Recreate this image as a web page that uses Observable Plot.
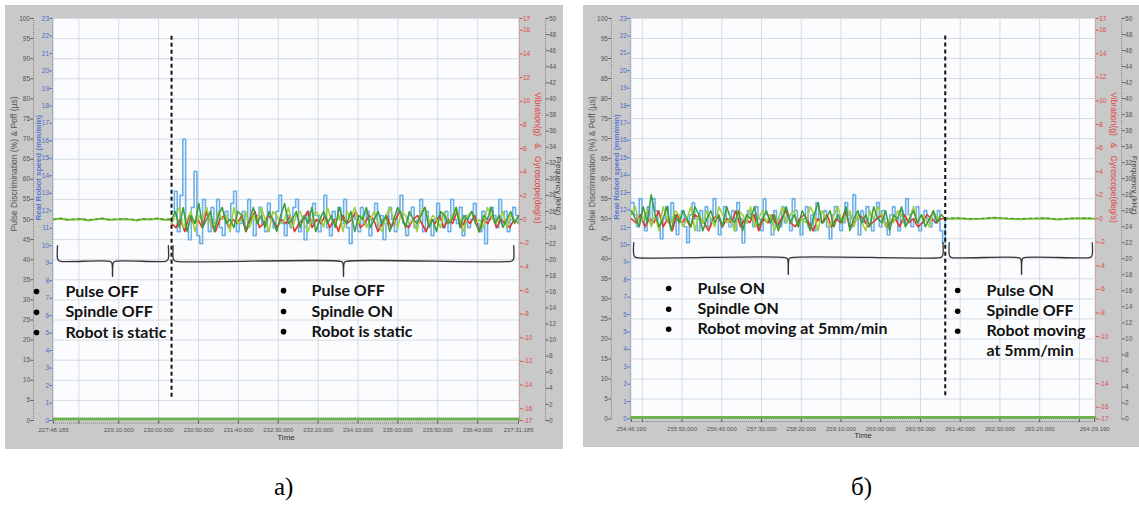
<!DOCTYPE html>
<html><head><meta charset="utf-8">
<script src="https://cdn.jsdelivr.net/npm/d3@7"></script>
<script src="https://cdn.jsdelivr.net/npm/@observablehq/plot@0.6"></script>
<style>
body{margin:0;background:#fff;width:1139px;height:517px;overflow:hidden;position:relative;font-family:"Liberation Sans",Arial,sans-serif}
.panel{position:absolute;top:5px}
.cap{position:absolute;top:474px;font-family:"Liberation Serif","Times New Roman",serif;font-size:25px;color:#000;line-height:1}
</style></head><body>
<div id="pa" class="panel" style="left:5px"></div>
<div id="pb" class="panel" style="left:583px"></div>
<div class="cap" style="left:274px">а)</div>
<div class="cap" style="left:851px">б)</div>
<script>
// ---------- tick labels ----------
const leftTicks = [0,5,10,15,20,25,30,35,40,45,50,55,60,65,70,75,80,85,90,95,100];
const blueTicks = [0,1,2,3,4,5,6,7,8,9,10,11,12,13,14,15,16,17,18,19,20,21,22,23];
const redTicks = [-17,-16,-14,-12,-10,-8,-6,-4,-2,0,2,4,6,8,10,12,14,16,17];
const freqTicks = [0,2,4,6,8,10,12,14,16,18,20,22,24,26,28,30,32,34,36,38,40,42,44,46,48,50];
const timeLabelsA = ["227:48.185","229:10.000","230:00.000","230:50.000","231:40.000","232:30.000","233:20.000","234:10.000","235:00.000","235:50.000","236:40.000","237:31.185"];
const timeGridA = ["228:20.000","229:10.000","230:00.000","230:50.000","231:40.000","232:30.000","233:20.000","234:10.000","235:00.000","235:50.000","236:40.000"];
const timeLabelsB = ["254:46.190","255:50.000","256:40.000","257:30.000","258:20.000","259:10.000","260:00.000","260:50.000","261:40.000","262:30.000","263:20.000","264:29.190"];
const timeGridB = ["255:00.000","255:50.000","256:40.000","257:30.000","258:20.000","259:10.000","260:00.000","260:50.000","261:40.000","262:30.000","263:20.000","264:10.000"];

// ---------- panel a series (left-axis units, %) ----------
const quietSegA = [0, 148];     // seconds after start
const noisySegA = [148, 583];
const switchA = 148;
const quietA = [50,50.2,49.9,50,50.1,49.8,50,50.2,49.9,50,50.1,50,49.8,50.1,50,50.2,49.9,50];
const blueA = [52,57,47,56,70,49,45,53,62,46,44,55,51,47,53,49,55,48,46,52,50,54,57,47,49,52,48,55,50,46,51,53,49,47,54,50,48,52,56,49,46,51,48,53,55,47,50,45,52,49,54,51,47,50,56,48,46,52,50,53,49,55,48,44,51,50,47,53,49,52,46,50,54,48,51,45,49,53,50,47,52,56,49,46,51,53,48,50,55,47,52,49,46,50,54,51,48,52,47,55,50,49,53,46,51,48,50,54,49,47,52,44,50,53,51,48,55,49,52,47,50,53,51,49];
const greenA = [50,52,48,53,47,51,49,54,48,50,52,47,51,53,49,50,48,52,51,47,50,53,49,51,48,52,50,47,51,54,49,50,52,48,51,49,53,47,50,52,49,51,48,53,50,49,52,47,51,50,53,48,50,52,49,51,47,50,53,51,48,52,50,49,51,53,48,50,47,52,51,49,50,53,48,51,50,52,49,47,51,50,53,49,51,48,50,52,49,51];
const limeA = [49,51,53,48,50,52,47,51,50,53,49,48,52,50,51,47,53,49,50,52,48,51,49,53,50,47,52,51,49,50,53,48,51,52,49,47,50,52,51,48,53,50,49,51,47,52,50,53,49,51,48,50,52,49,47,51,53,50,48,52,51,49,50,47,52,53,49,51,50,48,52,49,51,53,50,47,51,52,49,50,48,53,51,49,50,52,48,51,50,49];
const redA = [49,48,50,47,51,49,50,48,52,49,47,50,51,48,50,49,51,47,50,52,48,49,51,50,48,50,49,51,47,49,50,52,48,50,49,51,48,50,47,51,49,50,52,48,49,51,50,47,49,51,48,50,52,49,48,50,51,49,47,50,49,51,48,50,49,52,48,50,49,51,47,50,49,51,48,50,49,48,50,49];

// ---------- panel b series ----------
const noisySegB = [0, 395];
const quietSegB = [395, 583];
const switchB = 395;
const blueB = [54,51,48,55,50,47,53,49,55,52,48,45,50,53,49,54,51,46,50,52,48,44,51,54,50,47,52,49,53,48,50,55,51,46,49,53,50,48,52,47,54,50,44,49,52,51,48,53,50,47,55,51,49,46,52,50,48,53,49,51,47,55,52,49,46,50,53,48,51,47,54,50,49,52,48,45,51,53,50,47,49,54,51,48,56,50,46,52,49,53,51,47,50,54,48,52,49,46,51,53,50,47,52,49,55,51,48,50,53,47,49,52,50,48,51,49,52,47,44,50];
const greenB = [52,50,48,53,49,56,51,48,50,53,47,51,49,52,50,48,53,51,47,50,52,49,51,48,53,50,49,52,47,51,50,53,48,50,52,49,51,47,50,53,49,51,48,52,50,47,51,54,49,50,52,48,51,49,53,47,50,52,49,51,48,53,50,49,52,47,51,50,53,48,50,52,49,51,48,50,52,49,51,50];
const limeB = [51,53,49,50,52,48,51,47,53,50,49,52,51,48,50,53,47,51,49,52,50,48,53,51,49,50,47,52,51,49,53,48,50,52,49,51,47,50,53,49,51,52,48,50,49,53,51,47,52,50,48,51,53,49,50,52,48,51,49,47,52,50,53,51,48,50,49,52,51,48,50,53,49,51,50,48,52,50,51,50];
const redB = [50,49,51,48,50,49,52,48,50,47,51,49,50,48,51,50,49,47,50,51,48,50,49,52,48,50,49,51,47,50,49,51,48,50,52,49,48,50,51,49,47,50,49,51,48,50,49,52,48,49,51,50,48,49,50,51,48,49,50,48,51,49,50,48,49,51,50,49,50,50];
const quietB = [50,50.1,49.9,50,50.2,50,49.9,50,50.1,49.8,50,50.1,50];

// ---------- annotations ----------
const notesA = [
  {t:15, v:32.1, s:"Pulse OFF"}, {t:15, v:26.9, s:"Spindle OFF"}, {t:15, v:21.9, s:"Robot is static"},
  {t:323.5, v:32.3, s:"Pulse OFF"}, {t:323.5, v:27.1, s:"Spindle ON"}, {t:323.5, v:22.1, s:"Robot is static"}];
const bulletsA = [{t:-21.3, v:32.1},{t:-21.3, v:26.9},{t:-21.3, v:21.9},{t:288.4, v:32.3},{t:288.4, v:27.1},{t:288.4, v:22.1}];
const bracesA = [{a:5, b:144, c:74, top:43.5, mid:39.6, tip:35.8},{a:150, b:577, c:363.6, top:43.5, mid:39.6, tip:35.8}];
const notesB = [
  {t:83.4, v:32.6, s:"Pulse ON"}, {t:83.4, v:27.4, s:"Spindle ON"}, {t:83.4, v:22.4, s:"Robot moving at 5mm/min"},
  {t:447, v:32.1, s:"Pulse ON"}, {t:447, v:26.9, s:"Spindle OFF"}, {t:447, v:21.9, s:"Robot moving"}, {t:447, v:16.9, s:"at 5mm/min"}];
const bulletsB = [{t:47, v:32.6},{t:47, v:27.4},{t:47, v:22.4},{t:410.6, v:32.1},{t:410.6, v:26.9},{t:410.6, v:21.9}];
const bracesB = [{a:3, b:392, c:197.5, top:44, mid:40.3, tip:36.1},{a:400, b:580, c:491, top:44, mid:40.3, tip:36.1}];

// ---------- helpers ----------
const parseT = s => { const [m, sec] = s.split(":"); return +m * 60 + +sec; };
const fmtT = t => { const m = Math.floor(t / 60 + 1e-9); const s = t - m * 60; return m + ":" + s.toFixed(3).padStart(6, "0"); };
const W = 558, H = 444, ML = 48, MR = 45, MT = 13, MB = 29;
const kx = 583 / (W - ML - MR), ky = 100 / (H - MT - MB);
const series = (vals, seg, t0) => vals.map((v, i) => ({t: t0 + seg[0] + i * (seg[1] - seg[0]) / (vals.length - 1), v}));
function bracePts(br, id, t0) {
  const rx = 3 * kx, ry = 3 * ky;
  const p = [[br.a, br.top], [br.a, br.mid + ry], [br.a + rx * 0.35, br.mid + ry * 0.3], [br.a + rx, br.mid],
    [br.c - rx, br.mid], [br.c - rx * 0.3, br.mid - ry * 0.4], [br.c, br.tip], [br.c + rx * 0.3, br.mid - ry * 0.4], [br.c + rx, br.mid],
    [br.b - rx, br.mid], [br.b - rx * 0.35, br.mid + ry * 0.3], [br.b, br.mid + ry], [br.b, br.top]];
  return p.map(([t, v]) => ({t: t0 + t, v, id}));
}

function panel(cfg) {
  const t0 = parseT(cfg.labels[0]), t1 = parseT(cfg.labels[cfg.labels.length - 1]);
  const labelT = cfg.labels.map(parseT), gridT = cfg.grid.map(parseT);
  const labelSet = new Set(labelT.map(d => d.toFixed(3)));
  const tickT = Array.from(new Set([...labelT, ...gridT])).sort((a, b) => a - b);
  const minorT = d3.range(t0, t1 + 0.01, 2.5);
  const redPos = redTicks.map(v => (v + 17) / 34 * 100);
  const redMap = new Map(redPos.map((p, i) => [p.toFixed(4), redTicks[i]]));
  const q = series(cfg.quiet, cfg.quietSeg, t0);
  const noisy = {
    blue: series(cfg.blue, cfg.noisySeg, t0), green: series(cfg.green, cfg.noisySeg, t0),
    lime: series(cfg.lime, cfg.noisySeg, t0), red: series(cfg.red, cfg.noisySeg, t0)};
  const bottomLine = [{t: t0, v: 0.35}, {t: t1, v: 0.35}];
  const braces = cfg.braces.flatMap((b, i) => bracePts(b, i, t0));
  const tickFont = "Liberation Sans";
  return Plot.plot({
    width: W, height: H, marginLeft: ML, marginRight: MR, marginTop: MT, marginBottom: MB,
    style: {background: "#c9c9c9", fontFamily: tickFont, overflow: "visible"},
    x: {domain: [t0, t1], axis: null},
    y: {domain: [0, 100], axis: null},
    marks: [
      Plot.frame({fill: "#fbfcfe", stroke: null}),
      Plot.ruleY(leftTicks, {stroke: "#d6dbe1", strokeWidth: 1}),
      Plot.ruleX(gridT, {stroke: "#d6dbe1", strokeWidth: 1}),
      // dotted axis columns
      Plot.dot(d3.range(0, 100.01, 0.5), {y: d => d, frameAnchor: "left", dx: -20, r: 0.5, fill: "#666", stroke: null}),
      Plot.dot(d3.range(0, 100.01, 0.5), {y: d => d, frameAnchor: "left", dx: -1, r: 0.5, fill: "#5b78c8", stroke: null}),
      Plot.dot(d3.range(0, 100.01, 0.5), {y: d => d, frameAnchor: "right", dx: 1, r: 0.5, fill: "#e06060", stroke: null}),
      Plot.dot(d3.range(0, 100.01, 0.5), {y: d => d, frameAnchor: "right", dx: 27, r: 0.5, fill: "#666", stroke: null}),
      Plot.dot(minorT, {x: d => d, frameAnchor: "bottom", dy: 2.5, r: 0.5, fill: "#666", stroke: null}),
      // axes
      Plot.axisY(leftTicks, {anchor: "left", dx: -20, tickSize: 2.5, tickPadding: 1, fontSize: 6.5, color: "#555", label: null}),
      Plot.axisY(blueTicks.map(v => v * 100 / 23), {anchor: "left", dx: -1, tickSize: 2.5, tickPadding: 1, fontSize: 6.5, color: "#4a6cc8", label: null, tickFormat: d => Math.round(d * 23 / 100)}),
      Plot.axisY(redPos, {anchor: "right", dx: 1, tickSize: 2.5, tickPadding: 1, fontSize: 6.5, color: "#e04848", label: null, tickFormat: d => redMap.get(d.toFixed(4))}),
      Plot.axisY(freqTicks.map(v => v * 2), {anchor: "right", dx: 27, tickSize: 2.5, tickPadding: 1, fontSize: 6.5, color: "#555", label: null, tickFormat: d => Math.round(d / 2)}),
      Plot.axisX(tickT, {anchor: "bottom", tickSize: 3.5, tickPadding: 4, fontSize: 6, color: "#555", label: null, tickFormat: d => labelSet.has(d.toFixed(3)) ? fmtT(d) : ""}),
      // axis titles
      Plot.text(["Pulse Discrimination (%) & Poff (µs)"], {text: d => d, frameAnchor: "left", dx: -39, dy: 12, rotate: -90, fontSize: 8.5, fill: "#555"}),
      Plot.text(["Real Robot speed (mm/min)"], {text: d => d, frameAnchor: "left", dx: -15, dy: 1, rotate: -90, fontSize: 8, fontWeight: "bold", fill: "#5b78d0"}),
      Plot.text(["Vibration(g)   &   Gyroscope(deg/s)"], {text: d => d, frameAnchor: "right", dx: 19, dy: 4, rotate: 90, fontSize: 8.5, fill: "#e04848"}),
      Plot.text(["Frequency (kHz)"], {text: d => d, frameAnchor: "right", dx: 40, dy: -4, rotate: 90, fontSize: 8, fill: "#444"}),
      Plot.text(["Time"], {text: d => d, frameAnchor: "bottom", dy: 19, fontSize: 8, fill: "#333"}),
      // data
      Plot.line(bottomLine, {x: "t", y: "v", stroke: "#6fb052", strokeWidth: 3}),
      Plot.line(q, {x: "t", y: "v", stroke: "#8cc63f", strokeWidth: 2.2}),
      Plot.line(q, {x: "t", y: d => d.v + 0.1, stroke: "#3c9a3c", strokeWidth: 1.2, strokeDasharray: "3,3"}),
      Plot.line(noisy.blue, {x: "t", y: "v", stroke: "#6aaee6", strokeWidth: 1.7, strokeDasharray: "1.2,1.3", curve: "step-after"}),
      Plot.line(noisy.red, {x: "t", y: "v", stroke: "#e2352b", strokeWidth: 1.6}),
      Plot.line(noisy.lime, {x: "t", y: "v", stroke: "#9fd040", strokeWidth: 1.6}),
      Plot.line(noisy.green, {x: "t", y: "v", stroke: "#3a9c3a", strokeWidth: 1.5}),
      // annotations
      Plot.ruleX([t0 + cfg.switchT], {y1: 5.8, y2: 96, stroke: "#111", strokeWidth: 2, strokeDasharray: "4,3"}),
      Plot.line(braces, {x: "t", y: "v", z: "id", stroke: "#333", strokeWidth: 1.3, curve: "catmull-rom"}),
      Plot.dot(cfg.bullets, {x: d => t0 + d.t, y: "v", r: 2.8, fill: "#000", stroke: null}),
      Plot.text(cfg.notes, {x: d => t0 + d.t, y: "v", text: "s", textAnchor: "start", fontSize: 16, fontWeight: "bold", fontFamily: "Lato", fill: "#111"})
    ]
  });
}

document.getElementById("pa").append(panel({labels: timeLabelsA, grid: timeGridA, quiet: quietA, quietSeg: quietSegA, noisySeg: noisySegA,
  blue: blueA, green: greenA, lime: limeA, red: redA, switchT: switchA, notes: notesA, bullets: bulletsA, braces: bracesA}));
document.getElementById("pb").append(panel({labels: timeLabelsB, grid: timeGridB, quiet: quietB, quietSeg: quietSegB, noisySeg: noisySegB,
  blue: blueB, green: greenB, lime: limeB, red: redB, switchT: switchB, notes: notesB, bullets: bulletsB, braces: bracesB}));
</script></body></html>
